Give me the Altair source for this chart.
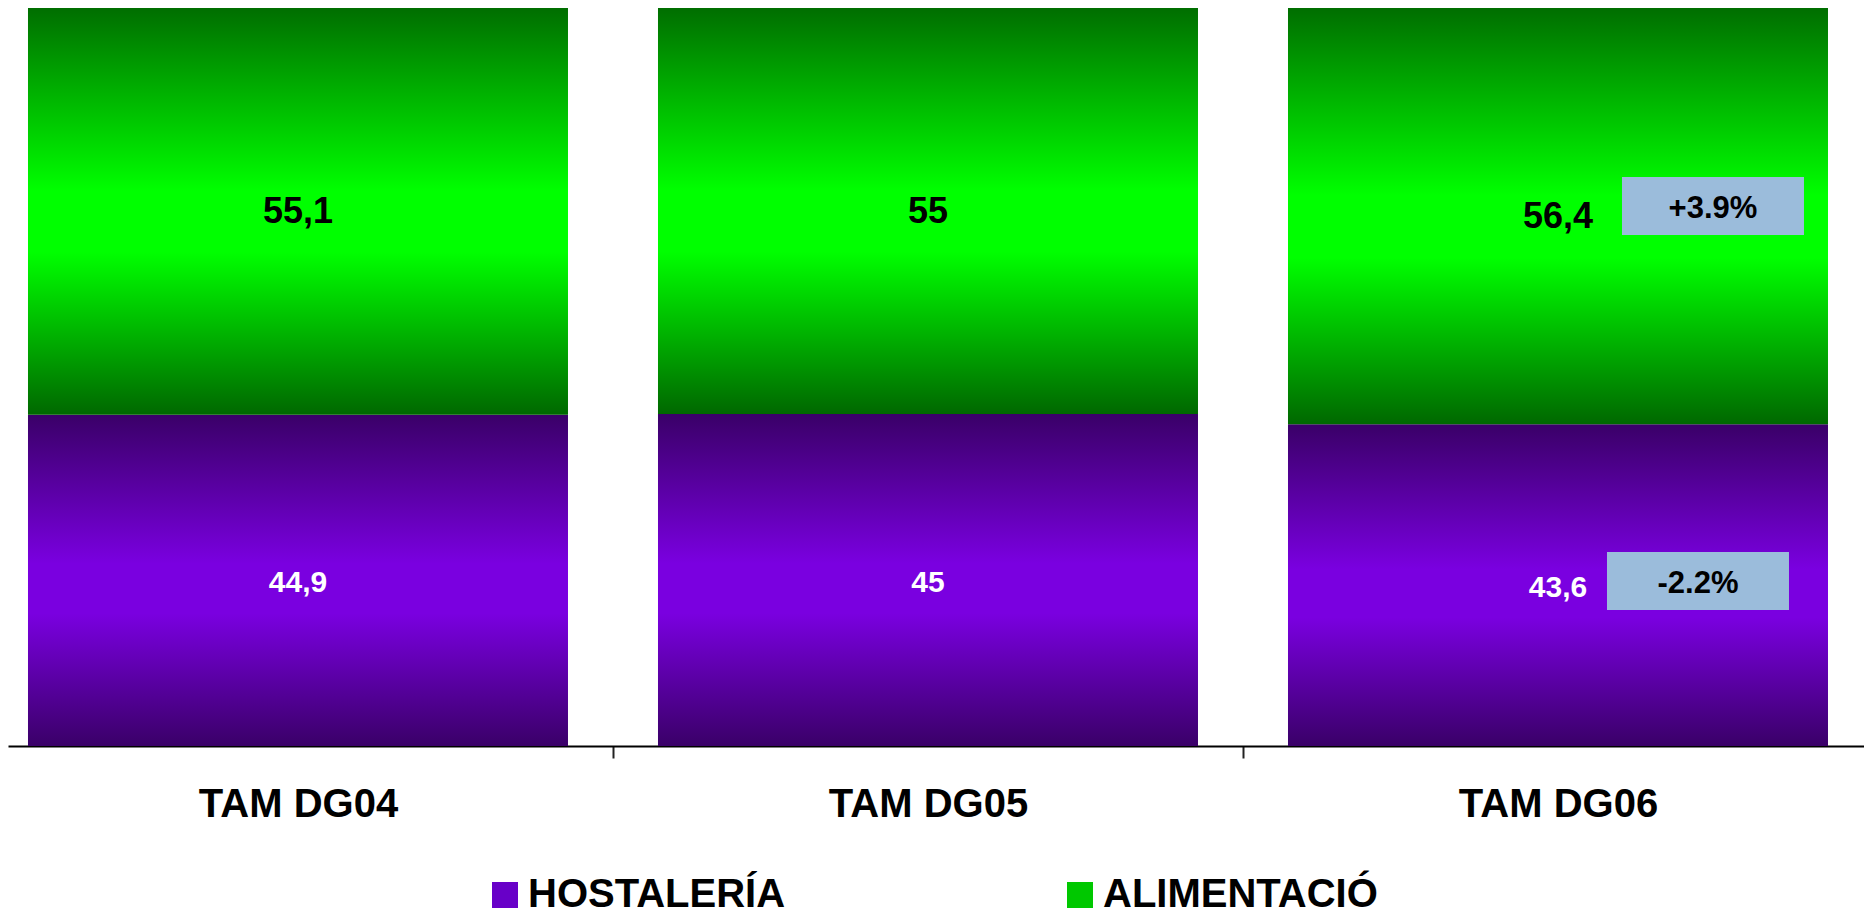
import altair as alt
import pandas as pd

# ---- data ----
categories = ["TAM DG04", "TAM DG05", "TAM DG06"]
series = ["HOSTALERÍA", "ALIMENTACIÓ"]
hostaleria = [44.9, 45.0, 43.6]
alimentacio = [55.1, 55.0, 56.4]

annot_cat = ["TAM DG06", "TAM DG06"]
annot_serie = ["ALIMENTACIÓ", "HOSTALERÍA"]
annot_text = ["+3.9%", "-2.2%"]

# ---- build tables ----
rows = []
for i, c in enumerate(categories):
    base = 0.0
    for s, vals in zip(series, [hostaleria, alimentacio]):
        v = vals[i]
        rows.append({"cat": c, "serie": s, "value": v,
                     "y0": base, "y1": base + v, "mid": base + v / 2})
        base += v
df = pd.DataFrame(rows)

ann = pd.DataFrame({"cat": annot_cat, "serie": annot_serie, "txt": annot_text})
ann = ann.merge(df[["cat", "serie", "mid"]], on=["cat", "serie"])

FONT = "Liberation Sans"

xscale = alt.Scale(paddingInner=0.142857, paddingOuter=0.04444, align=0.357)
xaxis = alt.Axis(title=None, labelAngle=0, labelFont=FONT, labelFontSize=40,
                 labelFontWeight="bold", labelColor="black", labelPadding=26,
                 labelLimit=1000,
                 tickSize=12, tickWidth=2, tickColor="#222222", tickOffset=-315,
                 labelOffset=315, domainColor="black", domainWidth=2, grid=False)
X = alt.X("cat:N", sort=categories, scale=xscale, axis=xaxis)
yscale = alt.Scale(domain=[0, 100])

green_grad = alt.Gradient(
    gradient="linear", x1=0, x2=0, y1=0, y2=1,
    stops=[alt.GradientStop(color="#006e00", offset=0),
           alt.GradientStop(color="#00ff00", offset=0.45),
           alt.GradientStop(color="#00ff00", offset=0.6),
           alt.GradientStop(color="#006800", offset=1)])
purple_grad = alt.Gradient(
    gradient="linear", x1=0, x2=0, y1=0, y2=1,
    stops=[alt.GradientStop(color="#3a0068", offset=0),
           alt.GradientStop(color="#7a00e0", offset=0.45),
           alt.GradientStop(color="#7a00e0", offset=0.6),
           alt.GradientStop(color="#3a0068", offset=1)])

base = alt.Chart(df)

bars_h = base.transform_filter(alt.datum.serie == series[0]).mark_bar(
    color=purple_grad).encode(
    x=X, y=alt.Y("y0:Q", scale=yscale, axis=None), y2="y1:Q")
bars_a = base.transform_filter(alt.datum.serie == series[1]).mark_bar(
    color=green_grad).encode(
    x=X, y=alt.Y("y0:Q", scale=yscale, axis=None), y2="y1:Q")

lab_expr = "replace(format(datum.value, '~g'), '.', ',')"
text_h = base.transform_filter(alt.datum.serie == series[0]).transform_calculate(
    lab=lab_expr).mark_text(font=FONT, fontWeight="bold", fontSize=30,
                            color="white", baseline="middle", dy=3).encode(
    x=X, y=alt.Y("mid:Q", scale=yscale, axis=None), text="lab:N")
text_a = base.transform_filter(alt.datum.serie == series[1]).transform_calculate(
    lab=lab_expr).mark_text(font=FONT, fontWeight="bold", fontSize=36,
                            color="black", baseline="middle", dy=1).encode(
    x=X, y=alt.Y("mid:Q", scale=yscale, axis=None), text="lab:N")

legend_layer = base.mark_square(opacity=0, filled=True).encode(
    x=X, y=alt.Y("mid:Q", scale=yscale, axis=None),
    color=alt.Color("serie:N",
                    scale=alt.Scale(domain=series, range=["#6800c8", "#00c800"]),
                    legend=alt.Legend(title=None, orient="none", legendX=477,
                                      legendY=867, direction="horizontal",
                                      symbolType="square", symbolSize=676,
                                      symbolOpacity=1, symbolStrokeWidth=0,
                                      labelFont=FONT, labelFontSize=40,
                                      labelFontWeight="bold", labelColor="black",
                                      labelOffset=3, labelLimit=1000,
                                      columnPadding=274, padding=0)))

BOX = "M-1,-0.3187L1,-0.3187L1,0.3187L-1,0.3187Z"
annb = alt.Chart(ann)
layers = []
for i, (xo, yo, tyo) in enumerate([(155, -10, -7), (140, -4, -1)]):
    sub = annb.transform_filter(alt.datum.txt == annot_text[i])
    layers.append(sub.mark_point(shape=BOX, size=33124, filled=True, opacity=1,
                                 color="#9bbcdb", strokeWidth=0,
                                 xOffset=xo, yOffset=yo).encode(
        x=X, y=alt.Y("mid:Q", scale=yscale, axis=None)))
    layers.append(sub.mark_text(font=FONT, fontWeight="bold", fontSize=31,
                                color="black", baseline="middle",
                                xOffset=xo, yOffset=tyo).encode(
        x=X, y=alt.Y("mid:Q", scale=yscale, axis=None), text="txt:N"))

chart = alt.layer(bars_h, bars_a, text_h, text_a, legend_layer, *layers).properties(
    width=1856, height=738,
    autosize=alt.AutoSizeParams(type="none"),
    padding={"left": 0, "top": 0, "right": 0, "bottom": 170},
).configure_view(strokeWidth=0)

chart.save("out.html", embed_options={"renderer": "svg", "actions": False})
